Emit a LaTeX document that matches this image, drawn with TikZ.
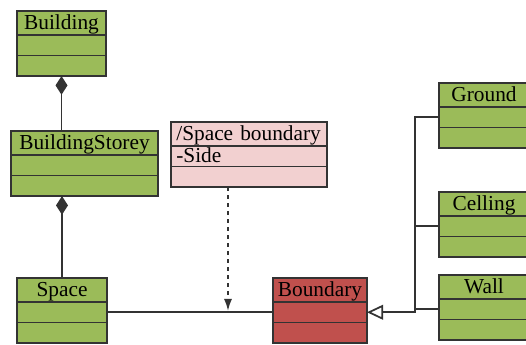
\documentclass[tikz,border=0pt]{standalone}
\usepackage{fontspec}
\setmainfont{Liberation Serif}
\usetikzlibrary{positioning,arrows.meta}
\definecolor{grn}{HTML}{9BBB59}
\definecolor{pnk}{HTML}{F2D0D0}
\definecolor{rd}{HTML}{C0504D}
\definecolor{edge}{HTML}{333333}
\begin{document}
\begin{tikzpicture}[x=0.75pt,y=-0.75pt,
  box/.style={draw=edge,line width=1.1pt,outer sep=0pt,inner sep=0pt,
    font=\fontsize{16}{18}\selectfont,text height=12.3pt,text depth=2.7pt},
  hd/.style={box,anchor=north west,minimum height=18pt},
  rw/.style={box,minimum height=15.4pt},
  sbx/.style={inner xsep=4pt,text width=109pt,align=left},
  link/.style={draw=edge,line width=1.3pt},
  comp/.style={link,{Diamond[length=14pt,width=9pt]}-},
  inh/.style={link,-{Triangle[open,length=12pt,width=11pt,fill=white]}}]
  \useasboundingbox (0,0) rectangle (526,345);
  \clip (0,0) rectangle (526,345);
  \node [hd,fill=grn,minimum width=66.75pt] (bld) at (17,11) {Building};
  \node [rw,fill=grn,minimum width=66.75pt,below=0pt of bld] (bld1) {};
  \node [rw,fill=grn,minimum width=66.75pt,below=0pt of bld1] (bld2) {};
  \node [hd,fill=grn,minimum width=110.25pt] (bs) at (11,131) {BuildingStorey};
  \node [rw,fill=grn,minimum width=110.25pt,below=0pt of bs] (bs1) {};
  \node [rw,fill=grn,minimum width=110.25pt,below=0pt of bs1] (bs2) {};
  \node [hd,fill=grn,minimum width=67.5pt] (sp) at (17,278) {Space};
  \node [rw,fill=grn,minimum width=67.5pt,below=0pt of sp] (sp1) {};
  \node [rw,fill=grn,minimum width=67.5pt,below=0pt of sp1] (sp2) {};
  \node [hd,sbx,fill=pnk] (sb) at (171,122) {/Space boundary};
  \node [rw,sbx,fill=pnk,below=0pt of sb] (sb1) {-Side};
  \node [rw,sbx,fill=pnk,below=0pt of sb1] (sb2) {};
  \node [hd,fill=rd,minimum width=70.5pt] (bd) at (273,278) {Boundary};
  \node [rw,fill=rd,minimum width=70.5pt,below=0pt of bd] (bd1) {};
  \node [rw,fill=rd,minimum width=70.5pt,below=0pt of bd1] (bd2) {};
  \node [hd,fill=grn,minimum width=67.5pt] (gr) at (439,83) {Ground};
  \node [rw,fill=grn,minimum width=67.5pt,below=0pt of gr] (gr1) {};
  \node [rw,fill=grn,minimum width=67.5pt,below=0pt of gr1] (gr2) {};
  \node [hd,fill=grn,minimum width=67.5pt] (cl) at (439,192) {Celling};
  \node [rw,fill=grn,minimum width=67.5pt,below=0pt of cl] (cl1) {};
  \node [rw,fill=grn,minimum width=67.5pt,below=0pt of cl1] (cl2) {};
  \node [hd,fill=grn,minimum width=67.5pt] (wl) at (439,275) {Wall};
  \node [rw,fill=grn,minimum width=67.5pt,below=0pt of wl] (wl1) {};
  \node [rw,fill=grn,minimum width=67.5pt,below=0pt of wl1] (wl2) {};
  \coordinate (jn) at (228,311);
  \coordinate (bus) at (415,0);
  \draw [comp] (bld2.south) -- (bld2.south |- bs.north);
  \draw [comp] (sp.north |- bs2.south) -- (sp.north);
  \draw [link] (sp1.east) -- (bd1.west);
  \draw [link,dashed,-{Latex[length=9pt,width=6pt]}] (sb2.south -| jn) -- (jn);
  \draw [inh] (wl1.west) -| (bus |- bd1.east) -- (bd1.east);
  \draw [link] (gr1.west) -| (bus |- wl1.west);
  \draw [link] (cl1.west) -- (cl1.west -| bus);
\end{tikzpicture}
\end{document}
